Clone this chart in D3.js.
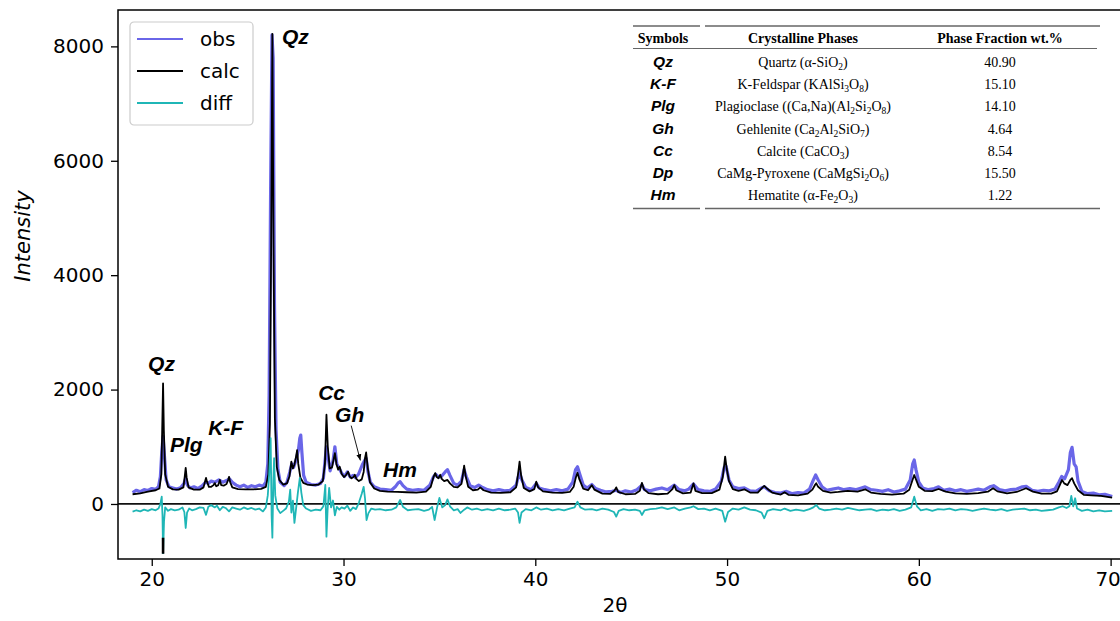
<!DOCTYPE html>
<html>
<head>
<meta charset="utf-8">
<script src="https://cdn.jsdelivr.net/npm/d3@7"></script>
<style>
  body { margin: 0; background: #fff; }
  svg { display: block; }
  .tick text { font-family: "DejaVu Sans", sans-serif; font-size: 20px; fill: #000; }
  .tick line, .domain { stroke: #000; stroke-width: 1.3px; }
</style>
</head>
<body>
<div id="container"></div>
<script>
/* CONSTANTS AND GLOBALS */
const width = 1120,
  height = 621,
  margin = { top: 10, bottom: 62, left: 118, right: -5 }

// 2θ ticks and intensity ticks
const xTicks = [20, 30, 40, 50, 60, 70]
const yTicks = [0, 2000, 4000, 6000, 8000]

// calculated pattern [2θ, intensity]
const calc = [[19.0,170],[19.4,185],[19.8,215],[20.2,240],[20.4,270],[20.5,520],[20.55,1400],[20.59,2110],[20.63,1300],[20.7,520],[20.85,300],[21.1,255],[21.4,250],[21.65,290],[21.72,480],[21.77,630],[21.82,460],[21.92,290],[22.2,250],[22.5,250],[22.7,290],[22.8,420],[22.83,455],[22.88,390],[22.98,300],[23.1,300],[23.22,330],[23.29,365],[23.36,310],[23.47,330],[23.55,420],[23.62,330],[23.75,320],[23.9,350],[23.98,420],[24.03,475],[24.09,380],[24.2,290],[24.5,260],[24.9,255],[25.3,255],[25.7,265],[25.95,300],[26.08,520],[26.16,1400],[26.22,4200],[26.29,8220],[26.35,4500],[26.42,1500],[26.52,650],[26.65,420],[26.85,340],[27.05,360],[27.18,480],[27.28,740],[27.36,620],[27.44,690],[27.52,820],[27.58,940],[27.64,700],[27.75,460],[27.9,370],[28.1,340],[28.4,330],[28.7,340],[28.92,400],[29.03,700],[29.11,1560],[29.18,1000],[29.28,620],[29.4,640],[29.55,890],[29.63,700],[29.72,600],[29.8,650],[29.9,530],[30.02,470],[30.12,500],[30.24,565],[30.32,480],[30.42,450],[30.52,470],[30.59,510],[30.67,440],[30.8,400],[30.95,430],[31.05,560],[31.12,800],[31.18,900],[31.26,640],[31.38,380],[31.6,270],[31.9,230],[32.3,215],[32.8,210],[33.3,205],[33.8,200],[34.3,215],[34.55,300],[34.68,460],[34.78,540],[34.86,470],[34.95,450],[35.04,510],[35.12,440],[35.25,400],[35.42,420],[35.55,360],[35.75,300],[35.95,290],[36.15,350],[36.24,550],[36.29,670],[36.36,500],[36.5,300],[36.75,240],[37.0,250],[37.13,290],[37.3,240],[37.7,200],[38.2,195],[38.7,205],[39.0,290],[39.1,520],[39.18,740],[39.26,500],[39.4,280],[39.7,220],[39.95,260],[40.05,390],[40.15,290],[40.4,220],[40.9,200],[41.4,195],[41.8,210],[42.0,300],[42.12,470],[42.2,545],[42.3,430],[42.5,270],[42.75,240],[42.95,330],[43.08,250],[43.5,180],[43.9,175],[44.12,230],[44.22,290],[44.32,210],[44.7,170],[45.2,175],[45.45,230],[45.56,370],[45.66,260],[45.9,190],[46.4,170],[46.9,180],[47.15,260],[47.25,330],[47.35,240],[47.7,185],[48.1,200],[48.25,360],[48.35,230],[48.7,190],[49.2,190],[49.6,250],[49.78,480],[49.9,826],[49.98,620],[50.1,400],[50.3,260],[50.6,230],[50.9,257],[51.2,200],[51.6,200],[51.85,290],[51.94,315],[52.05,280],[52.35,200],[52.8,165],[53.0,205],[53.2,160],[53.7,150],[54.2,180],[54.45,250],[54.6,340],[54.65,361],[54.75,300],[55.0,230],[55.4,200],[55.8,210],[56.3,230],[56.8,215],[57.2,257],[57.5,200],[58.0,175],[58.6,165],[59.2,180],[59.5,250],[59.67,420],[59.76,506],[59.86,420],[60.0,300],[60.3,230],[60.7,225],[61.03,262],[61.4,215],[61.9,185],[62.5,175],[63.1,190],[63.6,215],[63.87,275],[64.1,220],[64.6,185],[65.1,210],[65.59,275],[65.95,215],[66.4,180],[66.9,180],[67.2,220],[67.35,330],[67.47,420],[67.58,360],[67.75,330],[67.9,420],[67.99,450],[68.1,360],[68.3,240],[68.6,160],[69.0,150],[69.5,140],[70.08,110]]

// observed pattern [2θ, intensity]
const obs = [[19.0,200],[19.2,240],[19.4,215],[19.6,250],[19.8,235],[20.0,270],[20.2,255],[20.35,300],[20.45,480],[20.52,900],[20.59,1180],[20.66,850],[20.75,420],[20.9,300],[21.1,280],[21.3,260],[21.5,285],[21.68,360],[21.77,450],[21.86,330],[22.0,280],[22.2,300],[22.4,270],[22.6,310],[22.8,380],[22.95,360],[23.1,400],[23.3,380],[23.5,420],[23.7,380],[23.9,410],[24.05,440],[24.2,380],[24.4,330],[24.6,300],[24.8,330],[25.0,290],[25.2,320],[25.4,300],[25.6,330],[25.8,310],[25.95,380],[26.05,700],[26.12,1900],[26.2,5600],[26.27,8200],[26.33,7800],[26.4,3500],[26.48,1300],[26.58,600],[26.7,380],[26.9,320],[27.05,380],[27.2,560],[27.3,700],[27.4,640],[27.55,800],[27.65,950],[27.72,1150],[27.77,1205],[27.83,900],[27.92,500],[28.05,380],[28.3,340],[28.55,330],[28.8,360],[28.95,450],[29.05,800],[29.11,1000],[29.18,850],[29.3,580],[29.45,750],[29.55,1000],[29.65,700],[29.78,620],[29.9,540],[30.05,480],[30.2,560],[30.35,470],[30.5,500],[30.62,460],[30.78,520],[30.9,620],[31.0,700],[31.1,760],[31.18,800],[31.28,560],[31.4,380],[31.6,300],[31.9,260],[32.2,250],[32.5,240],[32.7,300],[32.85,370],[32.95,390],[33.1,320],[33.3,260],[33.6,240],[33.9,250],[34.2,240],[34.5,330],[34.7,480],[34.8,520],[34.95,470],[35.1,480],[35.3,560],[35.42,600],[35.55,500],[35.75,360],[35.95,330],[36.15,400],[36.29,600],[36.4,480],[36.6,320],[36.85,290],[37.05,330],[37.2,300],[37.5,250],[37.8,230],[38.1,250],[38.4,230],[38.7,240],[39.0,330],[39.18,560],[39.3,420],[39.5,290],[39.8,250],[40.05,360],[40.2,280],[40.5,250],[40.8,230],[41.1,250],[41.4,230],[41.7,260],[41.95,380],[42.1,600],[42.2,650],[42.32,520],[42.5,330],[42.7,280],[42.95,340],[43.15,270],[43.4,240],[43.7,210],[44.0,220],[44.22,240],[44.45,200],[44.7,230],[45.0,210],[45.3,250],[45.56,330],[45.7,250],[46.0,230],[46.3,260],[46.6,280],[46.9,250],[47.25,330],[47.5,250],[47.8,230],[48.0,260],[48.25,350],[48.5,250],[48.8,230],[49.1,220],[49.4,260],[49.7,400],[49.85,640],[49.95,660],[50.1,420],[50.3,300],[50.6,270],[50.9,280],[51.2,230],[51.5,220],[51.8,280],[51.94,300],[52.2,230],[52.5,200],[52.8,190],[53.1,220],[53.4,180],[53.7,200],[54.0,190],[54.3,260],[54.5,420],[54.62,506],[54.75,420],[54.95,300],[55.2,240],[55.5,260],[55.8,280],[56.1,250],[56.4,270],[56.7,250],[57.0,280],[57.2,300],[57.5,250],[57.8,240],[58.1,220],[58.4,250],[58.7,210],[59.0,230],[59.3,260],[59.55,420],[59.68,700],[59.76,769],[59.85,600],[60.0,380],[60.2,280],[60.5,250],[60.8,270],[61.03,300],[61.3,240],[61.6,260],[61.9,230],[62.2,250],[62.5,220],[62.8,240],[63.1,260],[63.4,240],[63.7,300],[63.9,320],[64.2,250],[64.5,230],[64.8,250],[65.1,260],[65.4,300],[65.6,310],[65.9,240],[66.2,220],[66.5,240],[66.8,230],[67.1,260],[67.3,380],[67.45,480],[67.6,440],[67.8,600],[67.9,900],[67.99,990],[68.1,700],[68.2,650],[68.3,400],[68.5,220],[68.8,180],[69.1,190],[69.4,160],[69.7,170],[70.0,140],[70.08,130]]

// difference curve [2θ, intensity]
const diff = [[19.0,-134],[19.2,-110],[19.4,-130],[19.6,-100],[19.8,-120],[20.0,-90],[20.2,-110],[20.35,-80],[20.45,0],[20.52,130],[20.56,-200],[20.59,-860],[20.64,-300],[20.7,-60],[20.85,-120],[21.0,-90],[21.2,-110],[21.4,-100],[21.6,-60],[21.7,-140],[21.77,-420],[21.84,-150],[21.95,-80],[22.1,-110],[22.3,-90],[22.5,-60],[22.7,-70],[22.83,-190],[22.95,-50],[23.1,-20],[23.29,-60],[23.4,-30],[23.55,-110],[23.7,-50],[23.85,-70],[24.03,-130],[24.2,-60],[24.4,-80],[24.6,-100],[24.8,-60],[25.0,-90],[25.2,-70],[25.4,-100],[25.6,-80],[25.8,-130],[25.95,-60],[26.05,150],[26.12,500],[26.2,1150],[26.25,-200],[26.29,-590],[26.34,400],[26.38,800],[26.44,150],[26.55,-80],[26.7,-160],[26.85,-120],[27.0,-80],[27.15,40],[27.22,250],[27.28,-150],[27.36,60],[27.44,-330],[27.52,-100],[27.62,200],[27.72,454],[27.8,200],[27.9,-20],[28.05,-80],[28.3,-120],[28.55,-100],[28.8,-110],[28.95,-40],[29.05,332],[29.11,-571],[29.17,-100],[29.25,280],[29.35,-60],[29.45,60],[29.55,-200],[29.65,-50],[29.78,-100],[29.9,-60],[30.05,-80],[30.2,-30],[30.35,-120],[30.5,-60],[30.65,-90],[30.8,20],[30.95,180],[31.05,300],[31.12,100],[31.2,-280],[31.3,-160],[31.45,-80],[31.65,-100],[31.9,-90],[32.2,-110],[32.5,-100],[32.75,-60],[32.95,70],[33.1,-50],[33.35,-110],[33.6,-100],[33.9,-90],[34.2,-120],[34.45,-100],[34.62,-50],[34.75,-280],[34.88,-60],[35.0,105],[35.15,-60],[35.3,-20],[35.42,80],[35.55,-40],[35.75,-110],[35.95,-90],[36.1,-157],[36.29,-100],[36.45,-60],[36.7,-100],[36.95,-80],[37.2,-110],[37.5,-90],[37.8,-110],[38.1,-80],[38.4,-110],[38.7,-100],[38.95,-80],[39.1,-150],[39.18,-330],[39.28,-150],[39.5,-90],[39.8,-110],[40.05,-60],[40.3,-100],[40.6,-80],[40.9,-110],[41.2,-90],[41.5,-110],[41.8,-80],[42.05,-60],[42.2,40],[42.35,-60],[42.6,-100],[42.95,-90],[43.2,-110],[43.5,-80],[43.8,-100],[44.1,-140],[44.22,-221],[44.35,-120],[44.6,-90],[44.9,-110],[45.2,-100],[45.45,-120],[45.56,-192],[45.7,-110],[46.0,-90],[46.3,-80],[46.6,-60],[46.9,-90],[47.25,-60],[47.5,-110],[47.8,-80],[48.1,-60],[48.25,-40],[48.5,-90],[48.8,-80],[49.1,-110],[49.4,-80],[49.75,-120],[49.9,-309],[50.05,-140],[50.3,-80],[50.6,-100],[50.9,-60],[51.2,-100],[51.5,-110],[51.8,-150],[51.94,-250],[52.1,-120],[52.4,-90],[52.8,-110],[53.0,-80],[53.3,-120],[53.6,-100],[54.0,-120],[54.3,-90],[54.5,-60],[54.65,-17],[54.8,-80],[55.1,-110],[55.4,-100],[55.7,-80],[56.0,-100],[56.3,-70],[56.6,-90],[56.9,-110],[57.2,-100],[57.5,-90],[57.8,-120],[58.1,-100],[58.4,-110],[58.7,-90],[59.0,-120],[59.3,-100],[59.6,-60],[59.76,128],[59.9,-40],[60.1,-110],[60.4,-90],[60.7,-120],[61.0,-90],[61.3,-100],[61.6,-80],[61.9,-110],[62.2,-90],[62.5,-100],[62.8,-120],[63.1,-100],[63.4,-80],[63.7,-100],[64.0,-110],[64.3,-90],[64.6,-120],[64.9,-100],[65.2,-90],[65.5,-80],[65.8,-110],[66.1,-100],[66.4,-120],[66.7,-110],[67.0,-100],[67.3,-60],[67.5,-40],[67.7,-70],[67.85,-40],[67.95,140],[68.05,-40],[68.15,100],[68.25,-80],[68.5,-120],[68.8,-100],[69.1,-130],[69.4,-110],[69.7,-130],[70.08,-120]]

// dark stub at the bottom of the first quartz diff spike [2θ, from, to]
const diffStub = [[20.59, -590, -870]]

// peak labels [text, 2θ, intensity]
const peakLabels = [["Qz", 19.81, 2330], ["Plg", 20.95, 900], ["K-F", 22.94, 1200],
  ["Qz", 26.79, 8050], ["Cc", 28.68, 1810], ["Gh", 29.56, 1430], ["Hm", 32.06, 470]]
// arrow from Gh label to its peak [x1, y1, x2, y2]
const ghArrow = [30.4, 1370, 30.88, 760]

// legend entries
const series = ["obs", "calc", "diff"]
const colors = { obs: "#6a66e8", calc: "#000000", diff: "#1fb6b6" }

// phase table
const symbols = ["Qz", "K-F", "Plg", "Gh", "Cc", "Dp", "Hm"]
const phaseNames = ["Quartz (α-SiO_2)", "K-Feldspar (KAlSi_3O_8)", "Plagioclase ((Ca,Na)(Al_2Si_2O_8)",
  "Gehlenite (Ca_2Al_2SiO_7)", "Calcite (CaCO_3)", "CaMg-Pyroxene (CaMgSi_2O_6)", "Hematite (α-Fe_2O_3)"]
const fractions = ["40.90", "15.10", "14.10", "4.64", "8.54", "15.50", "1.22"]
const tableHeaders = ["Symbols", "Crystalline Phases", "Phase Fraction wt.%"]

// SCALES
const xScale = d3.scaleLinear()
  .domain([18.24, 70.75])
  .range([margin.left, width - margin.right])

const yScale = d3.scaleLinear()
  .domain([-962, 8636])
  .range([height - margin.bottom, margin.top])

// CREATE SVG ELEMENT
const svg = d3.select("#container")
  .append("svg")
  .attr("width", width)
  .attr("height", height)

// zero line
svg.append("line")
  .attr("x1", margin.left).attr("x2", width)
  .attr("y1", yScale(0)).attr("y2", yScale(0))
  .attr("stroke", "#111").attr("stroke-width", 1.8)

// LINE GENERATOR
const lineGen = d3.line()
  .x(d => xScale(d[0]))
  .y(d => yScale(d[1]))

const plot = svg.append("g")

plot.append("path").datum(obs)
  .attr("fill", "none").attr("stroke", colors.obs)
  .attr("stroke-width", 3.2).attr("stroke-linejoin", "round")
  .attr("d", lineGen)

plot.append("path").datum(calc)
  .attr("fill", "none").attr("stroke", colors.calc)
  .attr("stroke-width", 1.8).attr("stroke-linejoin", "round")
  .attr("d", lineGen)

plot.append("path").datum(diff)
  .attr("fill", "none").attr("stroke", colors.diff)
  .attr("stroke-width", 1.8).attr("stroke-linejoin", "round")
  .attr("d", lineGen)

plot.selectAll(".stub")
  .data(diffStub)
  .join("line")
  .attr("class", "stub")
  .attr("x1", d => xScale(d[0])).attr("x2", d => xScale(d[0]))
  .attr("y1", d => yScale(d[1])).attr("y2", d => yScale(d[2]))
  .attr("stroke", "#000").attr("stroke-width", 2.6)

// PEAK LABELS
svg.selectAll(".peak")
  .data(peakLabels)
  .join("text")
  .attr("class", "peak")
  .attr("x", d => xScale(d[1]))
  .attr("y", d => yScale(d[2]))
  .attr("font-family", "Liberation Sans, Arial, sans-serif")
  .attr("font-weight", "bold")
  .attr("font-style", "italic")
  .attr("font-size", 21)
  .text(d => d[0])

svg.append("defs").append("marker")
  .attr("id", "arrow")
  .attr("viewBox", "0 0 10 10").attr("refX", 10).attr("refY", 5)
  .attr("markerWidth", 7).attr("markerHeight", 7)
  .attr("orient", "auto")
  .append("path").attr("d", "M0,1 L10,5 L0,9 z").attr("fill", "#000")

svg.append("line")
  .attr("x1", xScale(ghArrow[0])).attr("y1", yScale(ghArrow[1]))
  .attr("x2", xScale(ghArrow[2])).attr("y2", yScale(ghArrow[3]))
  .attr("stroke", "#000").attr("stroke-width", 0.9)
  .attr("marker-end", "url(#arrow)")

// FRAME
svg.append("rect")
  .attr("x", margin.left).attr("y", margin.top)
  .attr("width", width - margin.right - margin.left)
  .attr("height", height - margin.bottom - margin.top)
  .attr("fill", "none").attr("stroke", "#000").attr("stroke-width", 1.5)

// BUILD AND CALL AXES
const xAxis = d3.axisBottom(xScale).tickValues(xTicks).tickSize(7).tickPadding(6)
  .tickFormat(d3.format("d"))
svg.append("g")
  .attr("transform", `translate(0, ${height - margin.bottom})`)
  .call(xAxis)
  .call(g => g.select(".domain").remove())
  // last label sits at the page edge, nudge it in a little
  .call(g => g.selectAll(".tick text").filter(d => d === 70).attr("dx", -3))

const yAxis = d3.axisLeft(yScale).tickValues(yTicks).tickSize(7).tickPadding(7)
  .tickFormat(d3.format("d"))
svg.append("g")
  .attr("transform", `translate(${margin.left}, 0)`)
  .call(yAxis)
  .call(g => g.select(".domain").remove())

svg.append("text")
  .attr("transform", `translate(${30}, ${236}) rotate(-90)`)
  .attr("text-anchor", "middle")
  .attr("font-family", "DejaVu Sans, sans-serif")
  .attr("font-style", "italic")
  .attr("font-size", 21)
  .text("Intensity")

svg.append("text")
  .attr("x", 615).attr("y", 612)
  .attr("text-anchor", "middle")
  .attr("font-family", "DejaVu Sans, sans-serif")
  .attr("font-size", 20)
  .text("2θ")

// LEGEND
const legend = svg.append("g").attr("transform", "translate(130, 22)")
legend.append("rect")
  .attr("width", 123).attr("height", 103).attr("rx", 4)
  .attr("fill", "#fff").attr("fill-opacity", 0.8)
  .attr("stroke", "#ccc").attr("stroke-width", 1.2)

const items = legend.selectAll(".item")
  .data(series)
  .join("g")
  .attr("class", "item")
  .attr("transform", (d, i) => `translate(0, ${17 + i * 32})`)

items.append("line")
  .attr("x1", 7).attr("x2", 53)
  .attr("stroke", d => colors[d]).attr("stroke-width", 2.2)

items.append("text")
  .attr("x", 70).attr("y", 7)
  .attr("font-family", "DejaVu Sans, sans-serif")
  .attr("font-size", 20)
  .text(d => d)

// PHASE TABLE
const table = svg.append("g").attr("class", "table")
const colX = [663, 803, 1000]
const rowY = [66.5, 88.5, 111, 133.5, 156, 177.5, 200]

table.selectAll(".rule")
  .data([[633, 700, 26], [705, 1100, 26], [633, 1097, 48.5], [633, 700, 208.5], [705, 1100, 208.5]])
  .join("line")
  .attr("x1", d => d[0]).attr("x2", d => d[1])
  .attr("y1", d => d[2]).attr("y2", d => d[2])
  .attr("stroke", "#666").attr("stroke-width", d => d[2] === 48.5 ? 1 : 1.6)

table.selectAll(".head")
  .data(tableHeaders)
  .join("text")
  .attr("x", (d, i) => colX[i]).attr("y", 43)
  .attr("text-anchor", "middle")
  .attr("font-family", "Liberation Serif, Times New Roman, serif")
  .attr("font-weight", "bold")
  .attr("font-size", 14)
  .text(d => d)

table.selectAll(".sym")
  .data(symbols)
  .join("text")
  .attr("x", colX[0]).attr("y", (d, i) => rowY[i])
  .attr("text-anchor", "middle")
  .attr("font-family", "Liberation Sans, Arial, sans-serif")
  .attr("font-weight", "bold").attr("font-style", "italic")
  .attr("font-size", 15.5)
  .text(d => d)

table.selectAll(".frac")
  .data(fractions)
  .join("text")
  .attr("x", colX[2]).attr("y", (d, i) => rowY[i])
  .attr("text-anchor", "middle")
  .attr("font-family", "Liberation Serif, Times New Roman, serif")
  .attr("font-size", 14)
  .text(d => d)

// names with subscripts written as _n
const names = table.selectAll(".name")
  .data(phaseNames)
  .join("text")
  .attr("x", colX[1]).attr("y", (d, i) => rowY[i])
  .attr("text-anchor", "middle")
  .attr("font-family", "Liberation Serif, Times New Roman, serif")
  .attr("font-size", 14)

names.each(function (d) {
  const t = d3.select(this)
  const parts = d.split(/_(\d)/)
  let shifted = false
  parts.forEach((p, i) => {
    if (p === "") return
    const sub = i % 2 === 1
    const span = t.append("tspan").text(p)
    if (sub) { span.attr("font-size", 9.5).attr("dy", 3); shifted = true }
    else if (shifted) { span.attr("dy", -3); shifted = false }
  })
})
</script>
</body>
</html>
